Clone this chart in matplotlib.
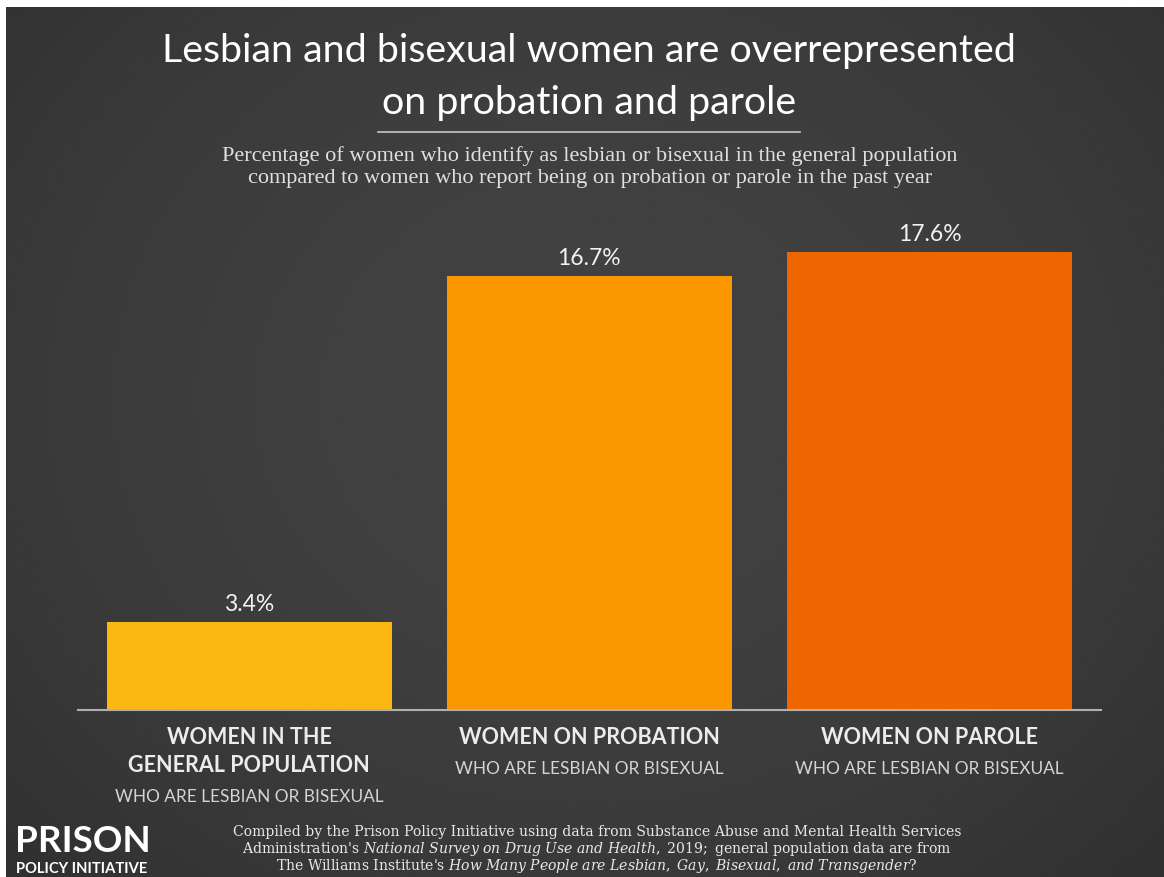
import matplotlib
matplotlib.use("Agg")
import matplotlib.pyplot as plt
import numpy as np
from matplotlib.lines import Line2D

categories = [["WOMEN IN THE", "GENERAL POPULATION"],
              ["WOMEN ON PROBATION"],
              ["WOMEN ON PAROLE"]]
sublabel = "WHO ARE LESBIAN OR BISEXUAL"
values = [3.4, 16.7, 17.6]
colors = ["#FCB711", "#FA9600", "#EF6500"]

title = ["Lesbian and bisexual women are overrepresented", "on probation and parole"]
subtitle = ["Percentage of women who identify as lesbian or bisexual in the general population",
            "compared to women who report being on probation or parole in the past year"]
source = [
    r"Compiled by the Prison Policy Initiative using data from Substance Abuse and Mental Health Services",
    r"Administration's $\mathit{National\ Survey\ on\ Drug\ Use\ and\ Health,\ 2019;}$ general population data are from",
    r"The Williams Institute's $\mathit{How\ Many\ People\ are\ Lesbian,\ Gay,\ Bisexual,\ and\ Transgender?}$",
]

W, H = 1164, 878
plt.rcParams["mathtext.fontset"] = "dejavuserif"
sans = ["Lato", "DejaVu Sans"]

fig = plt.figure(figsize=(W / 100, H / 100), dpi=100)
fig.patch.set_facecolor("white")

# dark backdrop with a soft vignette
bg = fig.add_axes([6 / W, 0, 1 - 6 / W, 1 - 8 / H])
yy, xx = np.mgrid[0:1:300j, 0:1:400j]
r = np.sqrt(((xx - 0.5) / 0.7) ** 2 + ((yy - 0.45) / 0.8) ** 2)
shade = 0.258 - 0.07 * np.clip(r, 0, 1) ** 2
bg.imshow(shade, cmap="gray", vmin=0, vmax=1, aspect="auto", extent=[0, 1, 0, 1],
          interpolation="bicubic")
bg.axis("off")
bg.set_zorder(-5)

# bars: baseline at y=711px, ~26 px per percentage point
ax = fig.add_axes([78 / W, (H - 711) / H, 1023 / W, 20 * 26.0 / H])
ax.patch.set_alpha(0)
x = np.arange(len(values))
ax.bar(x, values, width=285 / 340, color=colors, zorder=2)
ax.set_xlim(-0.503, 2.504)
ax.set_ylim(0, 20)
for s in ["top", "left", "right"]:
    ax.spines[s].set_visible(False)
ax.spines["bottom"].set_color("#b0b0b0")
ax.spines["bottom"].set_linewidth(1.5)
ax.set_xticks([])
ax.set_yticks([])

for i, v in enumerate(values):
    ax.annotate(f"{v}%", (i, v), xytext=(0, 8), textcoords="offset pixels",
                ha="center", va="bottom", fontsize=16.5, color="#f2f2f2", family=sans)
    lines = categories[i]
    for k, line in enumerate(lines):
        ax.annotate(line, (i, 0), xytext=(0, -27 - 28 * k), textcoords="offset pixels",
                    ha="center", va="center", fontsize=15.5, fontweight="bold",
                    color="#ececec", family=sans, annotation_clip=False)
    ax.annotate(sublabel, (i, 0), xytext=(0, -27 - 28 * (len(lines) - 1) - 31),
                textcoords="offset pixels", ha="center", va="center", fontsize=12.4,
                color="#d4d4d4", family=sans, annotation_clip=False)

# heading block
for k, line in enumerate(title):
    fig.text(589 / W, 1 - (62 + 52 * k) / H, line, ha="center", va="baseline",
             fontsize=28.4, color="white", family=sans)
fig.add_artist(Line2D([378 / W, 800 / W], [1 - 133 / H] * 2, color="#c8c8c8", lw=1.2))
for k, line in enumerate(subtitle):
    fig.text(590 / W, 1 - (161 + 22 * k) / H, line, ha="center", va="baseline",
             fontsize=16, color="#e0e0e0", family="Liberation Serif")

for k, line in enumerate(source):
    fig.text(597 / W, 1 - (832 + 17 * k) / H, line, ha="center", va="center",
             fontsize=10.1, color="#e8e8e8", family="DejaVu Serif")

# logo
fig.text(15 / W, 1 - 852 / H, "PRISON", ha="left", va="baseline", fontsize=26.5,
         fontweight="bold", color="white", family=sans)
fig.text(16 / W, 1 - 873 / H, "POLICY INITIATIVE", ha="left", va="baseline", fontsize=10.6,
         fontweight="bold", color="white", family=sans)

fig.savefig("out.png", dpi=100, facecolor=fig.get_facecolor())
